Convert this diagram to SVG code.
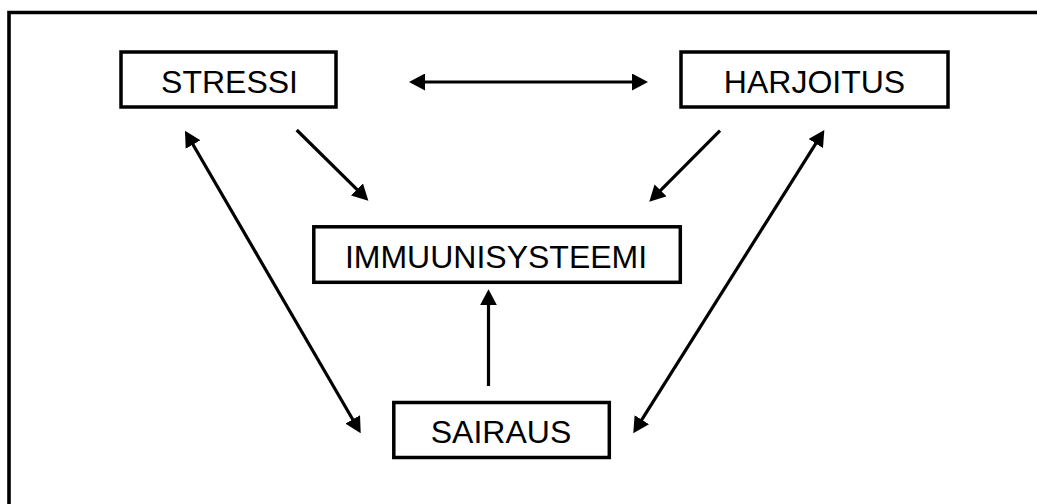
<svg xmlns="http://www.w3.org/2000/svg" width="1037" height="504" viewBox="0 0 1037 504">
  <style>
    .box { fill: #ffffff; stroke: #000000; stroke-width: 3.5; }
    .label { font-family: "Liberation Sans", Arial, sans-serif; font-size: 32px; fill: #000000; text-anchor: middle; }
    .link { stroke: #000000; stroke-width: 3.2; fill: none; }
    .frame { stroke: #000000; stroke-width: 3.6; fill: none; }
  </style>
  <defs>
    <marker id="head" markerUnits="userSpaceOnUse" markerWidth="16" markerHeight="17" refX="12" refY="8.5" orient="auto-start-reverse" viewBox="0 0 16 17">
      <path d="M0,0 L16,8.5 L0,17 Z" fill="#000000"/>
    </marker>
  </defs>

  <rect x="0" y="0" width="1037" height="504" fill="#ffffff"/>

  <!-- open frame: left and top edges -->
  <path class="frame" d="M9,504 L9,12.5 L1037,12.5"/>

  <g id="connectors">
    <!-- STRESSI <-> HARJOITUS -->
    <line class="link" x1="413" y1="82" x2="644" y2="82" marker-start="url(#head)" marker-end="url(#head)"/>
    <!-- STRESSI -> IMMUUNISYSTEEMI -->
    <line class="link" x1="296.7" y1="130" x2="365.5" y2="197.9" marker-end="url(#head)"/>
    <!-- HARJOITUS -> IMMUUNISYSTEEMI -->
    <line class="link" x1="720" y1="130.7" x2="652.1" y2="198.9" marker-end="url(#head)"/>
    <!-- STRESSI <-> SAIRAUS -->
    <line class="link" x1="187" y1="134.2" x2="358.7" y2="429.8" marker-start="url(#head)" marker-end="url(#head)"/>
    <!-- HARJOITUS <-> SAIRAUS -->
    <line class="link" x1="822.2" y1="133.4" x2="635.4" y2="429.9" marker-start="url(#head)" marker-end="url(#head)"/>
    <!-- SAIRAUS -> IMMUUNISYSTEEMI -->
    <line class="link" x1="488.5" y1="386" x2="488.5" y2="293.3" marker-end="url(#head)"/>
  </g>

  <g id="node-stressi">
    <rect class="box" x="121" y="52" width="215" height="55"/>
    <text class="label" x="229.5" y="92.5">STRESSI</text>
  </g>

  <g id="node-harjoitus">
    <rect class="box" x="681" y="52" width="267" height="55"/>
    <text class="label" x="814.5" y="92.5">HARJOITUS</text>
  </g>

  <g id="node-immuunisysteemi">
    <rect class="box" x="313.8" y="226.8" width="366.5" height="55.5"/>
    <text class="label" x="496" y="267.5">IMMUUNISYSTEEMI</text>
  </g>

  <g id="node-sairaus">
    <rect class="box" x="393.8" y="402.5" width="215.5" height="55"/>
    <text class="label" x="501" y="443">SAIRAUS</text>
  </g>
</svg>
